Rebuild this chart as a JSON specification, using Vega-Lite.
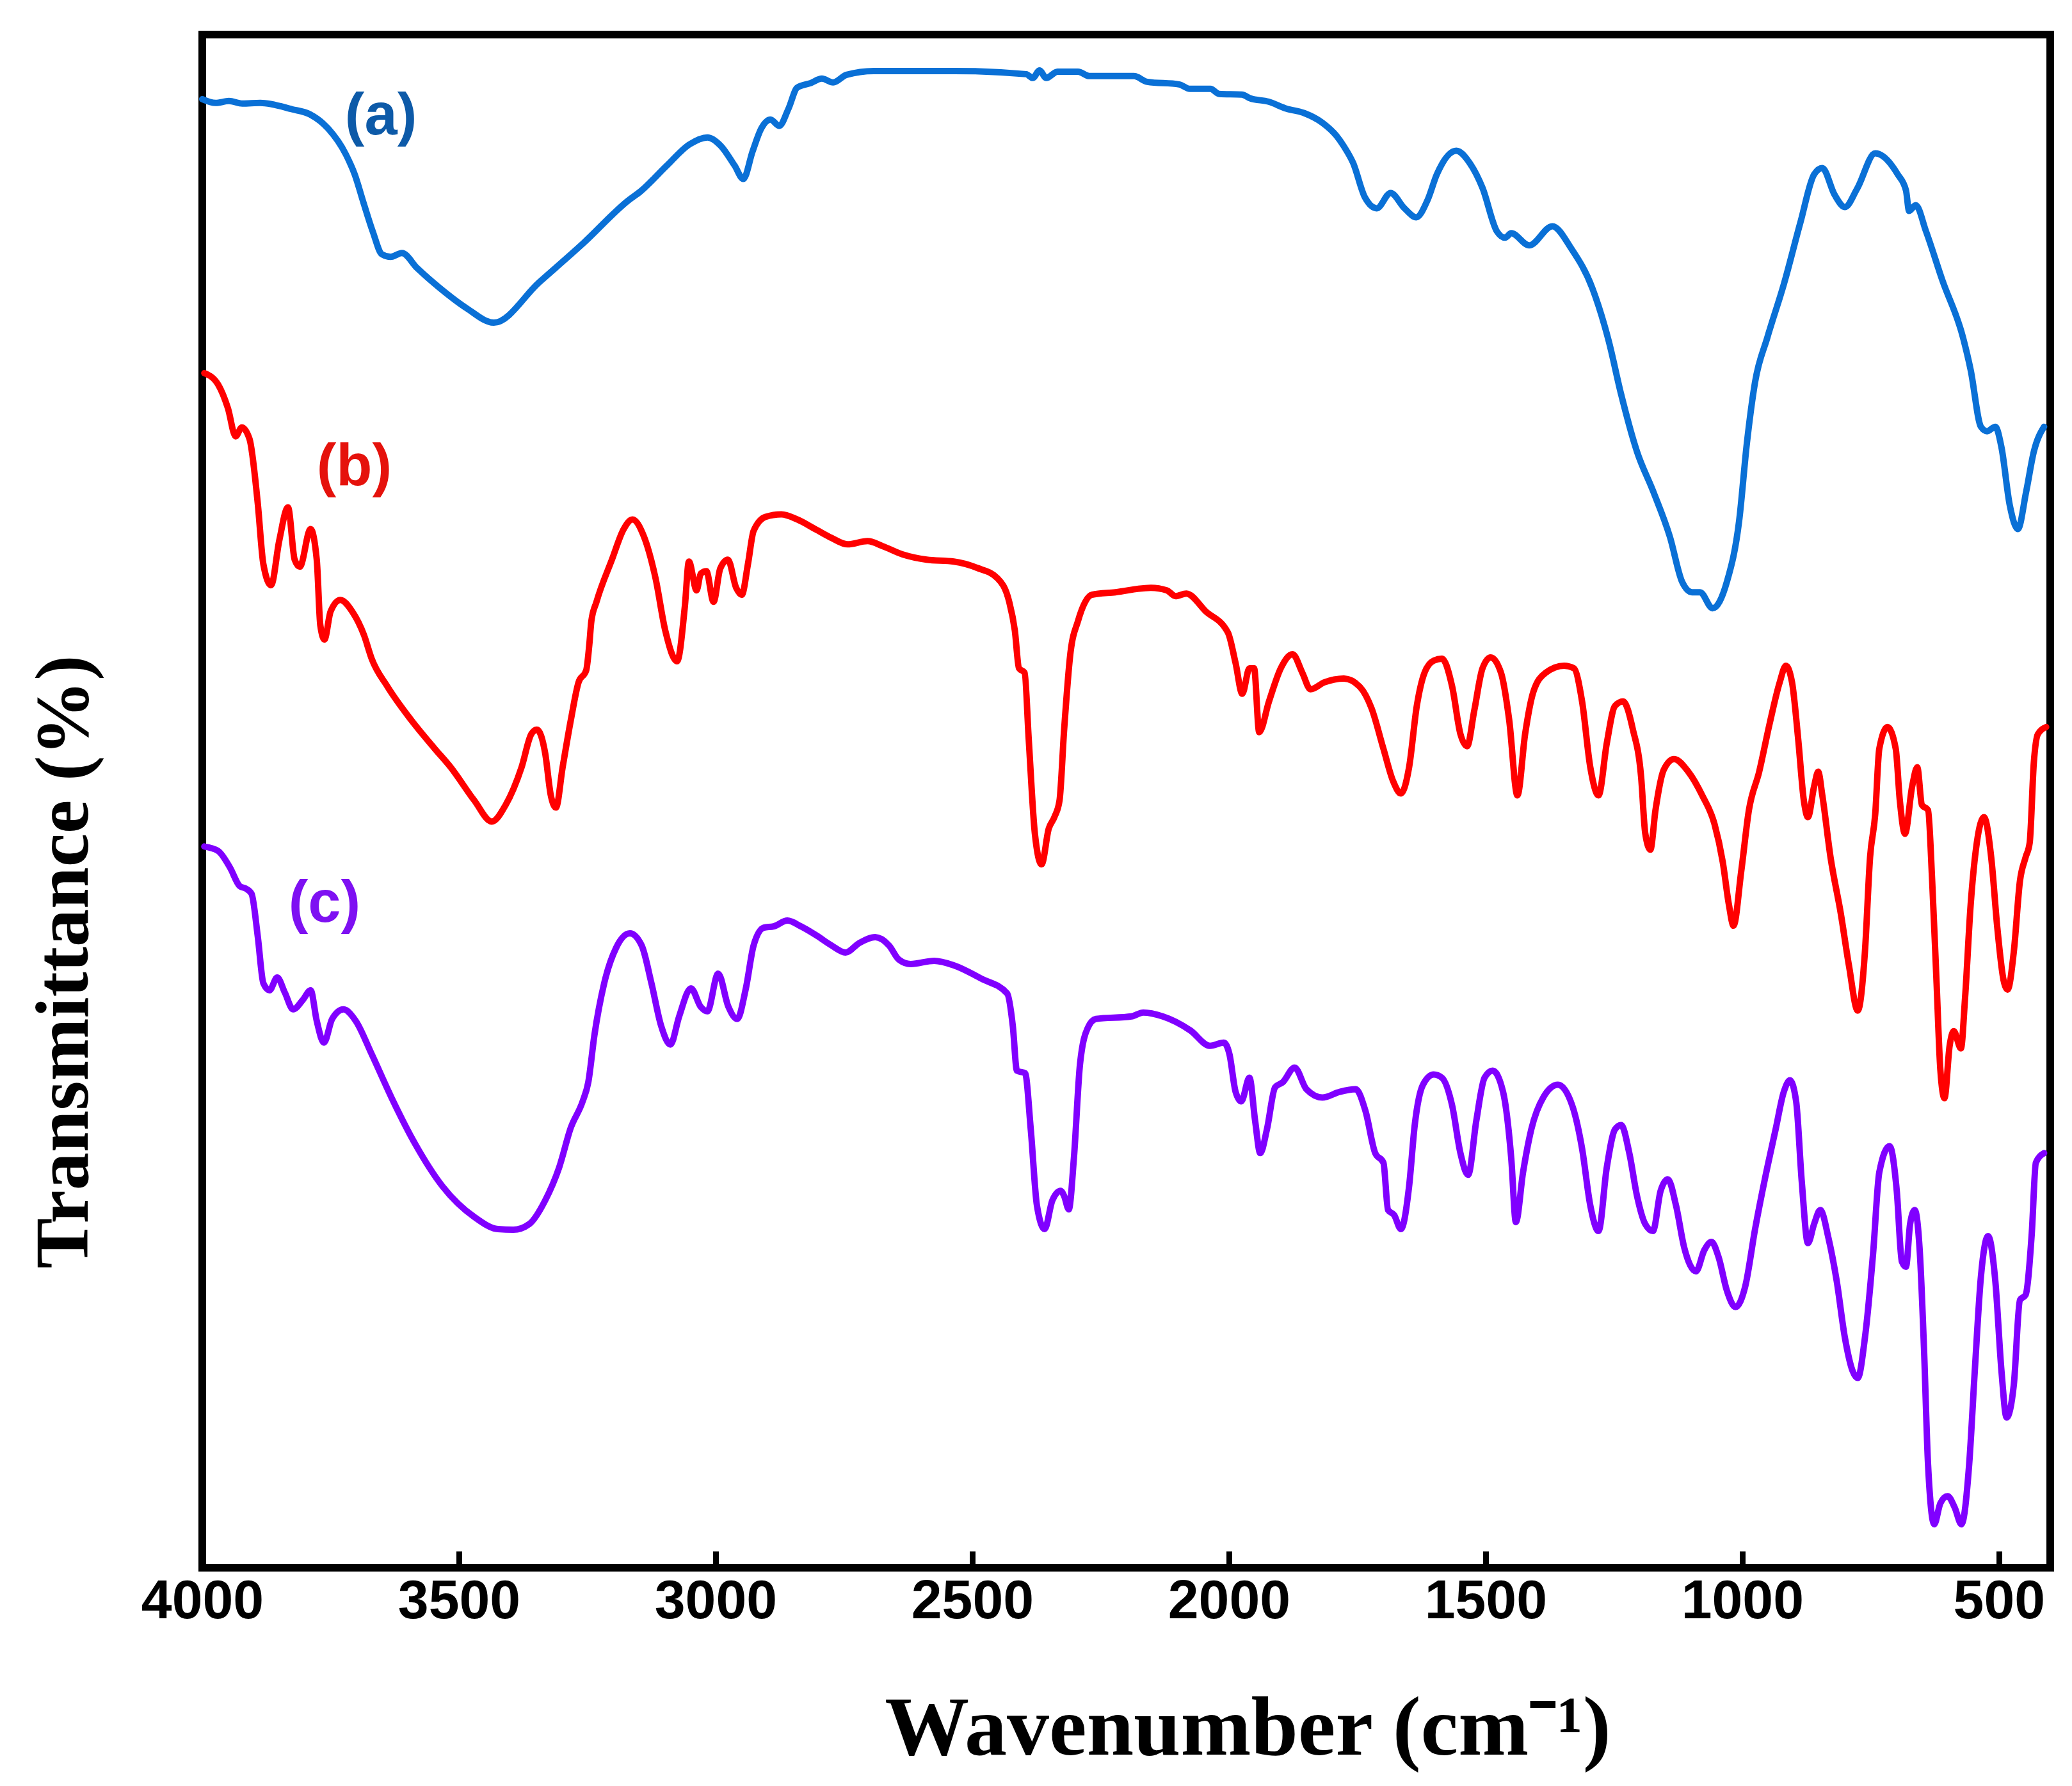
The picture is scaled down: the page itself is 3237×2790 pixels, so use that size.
{
  "$schema": "https://vega.github.io/schema/vega-lite/v6.json",
  "autosize": {"type": "none"},
  "padding": {"left": 316, "top": 54, "right": 34, "bottom": 341},
  "width": 2887,
  "height": 2395,
  "background": "white",
  "config": {"view": {"stroke": "#000000", "strokeWidth": 12}},
  "datasets": {
    "spectra": [
      {"sample":"a","wavenumber":4000,"transmittance":229.9},{"sample":"a","wavenumber":3974,"transmittance":229.3},{"sample":"a","wavenumber":3948,"transmittance":229.6},{"sample":"a","wavenumber":3922,"transmittance":229.2},{"sample":"a","wavenumber":3887,"transmittance":229.3},{"sample":"a","wavenumber":3825,"transmittance":228.3},{"sample":"a","wavenumber":3790,"transmittance":227.5},{"sample":"a","wavenumber":3755,"transmittance":225.3},{"sample":"a","wavenumber":3720,"transmittance":221.2},{"sample":"a","wavenumber":3703,"transmittance":218.1},{"sample":"a","wavenumber":3686,"transmittance":213.7},{"sample":"a","wavenumber":3668,"transmittance":209.2},{"sample":"a","wavenumber":3650,"transmittance":205.6},{"sample":"a","wavenumber":3633,"transmittance":205.2},{"sample":"a","wavenumber":3611,"transmittance":205.8},{"sample":"a","wavenumber":3581,"transmittance":203.4},{"sample":"a","wavenumber":3537,"transmittance":200.3},{"sample":"a","wavenumber":3484,"transmittance":197.1},{"sample":"a","wavenumber":3432,"transmittance":194.9},{"sample":"a","wavenumber":3344,"transmittance":201.2},{"sample":"a","wavenumber":3257,"transmittance":207.4},{"sample":"a","wavenumber":3169,"transmittance":214.1},{"sample":"a","wavenumber":3147,"transmittance":215.4},{"sample":"a","wavenumber":3095,"transmittance":219.5},{"sample":"a","wavenumber":3051,"transmittance":222.8},{"sample":"a","wavenumber":3016,"transmittance":223.9},{"sample":"a","wavenumber":2990,"transmittance":222.6},{"sample":"a","wavenumber":2963,"transmittance":219.5},{"sample":"a","wavenumber":2946,"transmittance":217.4},{"sample":"a","wavenumber":2928,"transmittance":221.7},{"sample":"a","wavenumber":2911,"transmittance":225.3},{"sample":"a","wavenumber":2893,"transmittance":226.7},{"sample":"a","wavenumber":2876,"transmittance":225.7},{"sample":"a","wavenumber":2858,"transmittance":228.4},{"sample":"a","wavenumber":2841,"transmittance":231.7},{"sample":"a","wavenumber":2815,"transmittance":232.4},{"sample":"a","wavenumber":2793,"transmittance":233.1},{"sample":"a","wavenumber":2771,"transmittance":232.5},{"sample":"a","wavenumber":2745,"transmittance":233.7},{"sample":"a","wavenumber":2692,"transmittance":234.3},{"sample":"a","wavenumber":2535,"transmittance":234.3},{"sample":"a","wavenumber":2395,"transmittance":233.8},{"sample":"a","wavenumber":2382,"transmittance":233.2},{"sample":"a","wavenumber":2369,"transmittance":234.4},{"sample":"a","wavenumber":2356,"transmittance":233.2},{"sample":"a","wavenumber":2334,"transmittance":234.2},{"sample":"a","wavenumber":2294,"transmittance":234.2},{"sample":"a","wavenumber":2272,"transmittance":233.5},{"sample":"a","wavenumber":2185,"transmittance":233.5},{"sample":"a","wavenumber":2159,"transmittance":232.6},{"sample":"a","wavenumber":2097,"transmittance":232.2},{"sample":"a","wavenumber":2076,"transmittance":231.5},{"sample":"a","wavenumber":2036,"transmittance":231.5},{"sample":"a","wavenumber":2019,"transmittance":230.7},{"sample":"a","wavenumber":1975,"transmittance":230.6},{"sample":"a","wavenumber":1958,"transmittance":230.0},{"sample":"a","wavenumber":1923,"transmittance":229.5},{"sample":"a","wavenumber":1888,"transmittance":228.4},{"sample":"a","wavenumber":1853,"transmittance":227.7},{"sample":"a","wavenumber":1818,"transmittance":226.2},{"sample":"a","wavenumber":1791,"transmittance":224.2},{"sample":"a","wavenumber":1776,"transmittance":222.5},{"sample":"a","wavenumber":1758,"transmittance":219.9},{"sample":"a","wavenumber":1735,"transmittance":214.5},{"sample":"a","wavenumber":1712,"transmittance":212.8},{"sample":"a","wavenumber":1685,"transmittance":215.2},{"sample":"a","wavenumber":1658,"transmittance":212.8},{"sample":"a","wavenumber":1635,"transmittance":211.4},{"sample":"a","wavenumber":1613,"transmittance":214.1},{"sample":"a","wavenumber":1595,"transmittance":218.1},{"sample":"a","wavenumber":1557,"transmittance":221.8},{"sample":"a","wavenumber":1531,"transmittance":219.9},{"sample":"a","wavenumber":1506,"transmittance":216.0},{"sample":"a","wavenumber":1478,"transmittance":209.2},{"sample":"a","wavenumber":1462,"transmittance":208.2},{"sample":"a","wavenumber":1450,"transmittance":208.9},{"sample":"a","wavenumber":1415,"transmittance":207.0},{"sample":"a","wavenumber":1370,"transmittance":210.0},{"sample":"a","wavenumber":1333,"transmittance":206.5},{"sample":"a","wavenumber":1292,"transmittance":200.3},{"sample":"a","wavenumber":1260,"transmittance":192.0},{"sample":"a","wavenumber":1236,"transmittance":183.7},{"sample":"a","wavenumber":1205,"transmittance":174.7},{"sample":"a","wavenumber":1173,"transmittance":168.4},{"sample":"a","wavenumber":1141,"transmittance":161.4},{"sample":"a","wavenumber":1117,"transmittance":154.3},{"sample":"a","wavenumber":1098,"transmittance":152.7},{"sample":"a","wavenumber":1082,"transmittance":152.7},{"sample":"a","wavenumber":1058,"transmittance":150.2},{"sample":"a","wavenumber":1030,"transmittance":154.3},{"sample":"a","wavenumber":1006,"transmittance":163.9},{"sample":"a","wavenumber":991,"transmittance":176.0},{"sample":"a","wavenumber":975,"transmittance":185.6},{"sample":"a","wavenumber":951,"transmittance":192.6},{"sample":"a","wavenumber":919,"transmittance":200.9},{"sample":"a","wavenumber":887,"transmittance":210.5},{"sample":"a","wavenumber":860,"transmittance":218.1},{"sample":"a","wavenumber":844,"transmittance":219.1},{"sample":"a","wavenumber":820,"transmittance":214.9},{"sample":"a","wavenumber":800,"transmittance":213.0},{"sample":"a","wavenumber":776,"transmittance":215.9},{"sample":"a","wavenumber":741,"transmittance":221.4},{"sample":"a","wavenumber":697,"transmittance":218.1},{"sample":"a","wavenumber":681,"transmittance":215.6},{"sample":"a","wavenumber":675,"transmittance":212.4},{"sample":"a","wavenumber":662,"transmittance":213.3},{"sample":"a","wavenumber":642,"transmittance":209.2},{"sample":"a","wavenumber":610,"transmittance":201.5},{"sample":"a","wavenumber":570,"transmittance":192.6},{"sample":"a","wavenumber":555,"transmittance":187.5},{"sample":"a","wavenumber":535,"transmittance":178.6},{"sample":"a","wavenumber":523,"transmittance":177.9},{"sample":"a","wavenumber":507,"transmittance":178.6},{"sample":"a","wavenumber":495,"transmittance":175.4},{"sample":"a","wavenumber":479,"transmittance":166.4},{"sample":"a","wavenumber":463,"transmittance":162.6},{"sample":"a","wavenumber":447,"transmittance":168.4},{"sample":"a","wavenumber":432,"transmittance":174.7},{"sample":"a","wavenumber":412,"transmittance":178.6},
      {"sample":"b","wavenumber":3996,"transmittance":187.0},{"sample":"b","wavenumber":3969,"transmittance":185.2},{"sample":"b","wavenumber":3950,"transmittance":181.5},{"sample":"b","wavenumber":3935,"transmittance":177.1},{"sample":"b","wavenumber":3923,"transmittance":178.5},{"sample":"b","wavenumber":3908,"transmittance":176.7},{"sample":"b","wavenumber":3892,"transmittance":166.7},{"sample":"b","wavenumber":3881,"transmittance":157.1},{"sample":"b","wavenumber":3866,"transmittance":153.8},{"sample":"b","wavenumber":3850,"transmittance":160.8},{"sample":"b","wavenumber":3833,"transmittance":166.0},{"sample":"b","wavenumber":3820,"transmittance":157.8},{"sample":"b","wavenumber":3810,"transmittance":156.7},{"sample":"b","wavenumber":3789,"transmittance":162.6},{"sample":"b","wavenumber":3777,"transmittance":157.8},{"sample":"b","wavenumber":3770,"transmittance":147.5},{"sample":"b","wavenumber":3762,"transmittance":145.3},{"sample":"b","wavenumber":3750,"transmittance":149.7},{"sample":"b","wavenumber":3731,"transmittance":151.5},{"sample":"b","wavenumber":3708,"transmittance":149.7},{"sample":"b","wavenumber":3685,"transmittance":146.0},{"sample":"b","wavenumber":3670,"transmittance":142.3},{"sample":"b","wavenumber":3639,"transmittance":137.9},{"sample":"b","wavenumber":3593,"transmittance":132.7},{"sample":"b","wavenumber":3547,"transmittance":128.2},{"sample":"b","wavenumber":3516,"transmittance":125.3},{"sample":"b","wavenumber":3470,"transmittance":120.1},{"sample":"b","wavenumber":3436,"transmittance":116.8},{"sample":"b","wavenumber":3409,"transmittance":119.4},{"sample":"b","wavenumber":3378,"transmittance":125.3},{"sample":"b","wavenumber":3359,"transmittance":130.5},{"sample":"b","wavenumber":3348,"transmittance":131.2},{"sample":"b","wavenumber":3332,"transmittance":127.5},{"sample":"b","wavenumber":3321,"transmittance":120.9},{"sample":"b","wavenumber":3311,"transmittance":119.0},{"sample":"b","wavenumber":3298,"transmittance":125.3},{"sample":"b","wavenumber":3282,"transmittance":132.7},{"sample":"b","wavenumber":3267,"transmittance":138.6},{"sample":"b","wavenumber":3252,"transmittance":140.5},{"sample":"b","wavenumber":3246,"transmittance":144.5},{"sample":"b","wavenumber":3242,"transmittance":148.2},{"sample":"b","wavenumber":3232,"transmittance":151.2},{"sample":"b","wavenumber":3202,"transmittance":157.8},{"sample":"b","wavenumber":3179,"transmittance":162.6},{"sample":"b","wavenumber":3162,"transmittance":164.1},{"sample":"b","wavenumber":3140,"transmittance":161.5},{"sample":"b","wavenumber":3117,"transmittance":154.9},{"sample":"b","wavenumber":3098,"transmittance":146.7},{"sample":"b","wavenumber":3075,"transmittance":141.9},{"sample":"b","wavenumber":3060,"transmittance":150.4},{"sample":"b","wavenumber":3052,"transmittance":157.5},{"sample":"b","wavenumber":3037,"transmittance":153.0},{"sample":"b","wavenumber":3029,"transmittance":155.6},{"sample":"b","wavenumber":3018,"transmittance":156.0},{"sample":"b","wavenumber":3004,"transmittance":151.2},{"sample":"b","wavenumber":2991,"transmittance":156.4},{"sample":"b","wavenumber":2976,"transmittance":157.8},{"sample":"b","wavenumber":2960,"transmittance":153.4},{"sample":"b","wavenumber":2949,"transmittance":152.3},{"sample":"b","wavenumber":2937,"transmittance":157.1},{"sample":"b","wavenumber":2926,"transmittance":162.3},{"sample":"b","wavenumber":2903,"transmittance":164.5},{"sample":"b","wavenumber":2872,"transmittance":164.9},{"sample":"b","wavenumber":2841,"transmittance":164.1},{"sample":"b","wavenumber":2804,"transmittance":162.5},{"sample":"b","wavenumber":2774,"transmittance":161.2},{"sample":"b","wavenumber":2743,"transmittance":160.2},{"sample":"b","wavenumber":2704,"transmittance":160.7},{"sample":"b","wavenumber":2674,"transmittance":159.9},{"sample":"b","wavenumber":2635,"transmittance":158.6},{"sample":"b","wavenumber":2589,"transmittance":157.8},{"sample":"b","wavenumber":2536,"transmittance":157.5},{"sample":"b","wavenumber":2490,"transmittance":156.5},{"sample":"b","wavenumber":2451,"transmittance":154.9},{"sample":"b","wavenumber":2428,"transmittance":151.2},{"sample":"b","wavenumber":2417,"transmittance":146.7},{"sample":"b","wavenumber":2409,"transmittance":140.8},{"sample":"b","wavenumber":2398,"transmittance":140.1},{"sample":"b","wavenumber":2390,"transmittance":129.7},{"sample":"b","wavenumber":2378,"transmittance":114.9},{"sample":"b","wavenumber":2365,"transmittance":110.1},{"sample":"b","wavenumber":2351,"transmittance":115.7},{"sample":"b","wavenumber":2340,"transmittance":117.5},{"sample":"b","wavenumber":2330,"transmittance":120.1},{"sample":"b","wavenumber":2321,"transmittance":131.2},{"sample":"b","wavenumber":2309,"transmittance":143.0},{"sample":"b","wavenumber":2294,"transmittance":148.2},{"sample":"b","wavenumber":2267,"transmittance":152.3},{"sample":"b","wavenumber":2221,"transmittance":152.7},{"sample":"b","wavenumber":2152,"transmittance":153.4},{"sample":"b","wavenumber":2121,"transmittance":153.0},{"sample":"b","wavenumber":2104,"transmittance":152.1},{"sample":"b","wavenumber":2083,"transmittance":152.5},{"sample":"b","wavenumber":2045,"transmittance":149.7},{"sample":"b","wavenumber":2002,"transmittance":146.4},{"sample":"b","wavenumber":1987,"transmittance":141.6},{"sample":"b","wavenumber":1974,"transmittance":136.8},{"sample":"b","wavenumber":1960,"transmittance":140.8},{"sample":"b","wavenumber":1951,"transmittance":140.8},{"sample":"b","wavenumber":1941,"transmittance":130.8},{"sample":"b","wavenumber":1922,"transmittance":135.6},{"sample":"b","wavenumber":1899,"transmittance":140.8},{"sample":"b","wavenumber":1876,"transmittance":143.0},{"sample":"b","wavenumber":1857,"transmittance":140.1},{"sample":"b","wavenumber":1841,"transmittance":137.5},{"sample":"b","wavenumber":1814,"transmittance":138.6},{"sample":"b","wavenumber":1776,"transmittance":139.2},{"sample":"b","wavenumber":1745,"transmittance":137.9},{"sample":"b","wavenumber":1722,"transmittance":134.5},{"sample":"b","wavenumber":1699,"transmittance":128.2},{"sample":"b","wavenumber":1680,"transmittance":123.1},{"sample":"b","wavenumber":1665,"transmittance":121.2},{"sample":"b","wavenumber":1649,"transmittance":125.3},{"sample":"b","wavenumber":1634,"transmittance":134.9},{"sample":"b","wavenumber":1619,"transmittance":140.1},{"sample":"b","wavenumber":1601,"transmittance":142.0},{"sample":"b","wavenumber":1585,"transmittance":142.3},{"sample":"b","wavenumber":1565,"transmittance":137.9},{"sample":"b","wavenumber":1549,"transmittance":130.5},{"sample":"b","wavenumber":1536,"transmittance":128.6},{"sample":"b","wavenumber":1522,"transmittance":134.2},{"sample":"b","wavenumber":1506,"transmittance":140.8},{"sample":"b","wavenumber":1490,"transmittance":142.5},{"sample":"b","wavenumber":1470,"transmittance":140.1},{"sample":"b","wavenumber":1454,"transmittance":132.7},{"sample":"b","wavenumber":1438,"transmittance":120.9},{"sample":"b","wavenumber":1423,"transmittance":130.5},{"sample":"b","wavenumber":1407,"transmittance":137.1},{"sample":"b","wavenumber":1383,"transmittance":140.1},{"sample":"b","wavenumber":1347,"transmittance":141.2},{"sample":"b","wavenumber":1328,"transmittance":140.8},{"sample":"b","wavenumber":1312,"transmittance":135.6},{"sample":"b","wavenumber":1296,"transmittance":125.3},{"sample":"b","wavenumber":1280,"transmittance":120.9},{"sample":"b","wavenumber":1264,"transmittance":129.0},{"sample":"b","wavenumber":1248,"transmittance":134.9},{"sample":"b","wavenumber":1232,"transmittance":135.6},{"sample":"b","wavenumber":1213,"transmittance":131.2},{"sample":"b","wavenumber":1197,"transmittance":123.8},{"sample":"b","wavenumber":1189,"transmittance":115.0},{"sample":"b","wavenumber":1179,"transmittance":112.4},{"sample":"b","wavenumber":1169,"transmittance":118.6},{"sample":"b","wavenumber":1153,"transmittance":124.9},{"sample":"b","wavenumber":1133,"transmittance":126.6},{"sample":"b","wavenumber":1105,"transmittance":124.6},{"sample":"b","wavenumber":1078,"transmittance":120.9},{"sample":"b","wavenumber":1054,"transmittance":116.4},{"sample":"b","wavenumber":1038,"transmittance":110.5},{"sample":"b","wavenumber":1026,"transmittance":103.8},{"sample":"b","wavenumber":1017,"transmittance":100.5},{"sample":"b","wavenumber":1002,"transmittance":109.0},{"sample":"b","wavenumber":987,"transmittance":118.6},{"sample":"b","wavenumber":967,"transmittance":124.6},{"sample":"b","wavenumber":947,"transmittance":132.0},{"sample":"b","wavenumber":927,"transmittance":138.6},{"sample":"b","wavenumber":915,"transmittance":141.2},{"sample":"b","wavenumber":903,"transmittance":138.6},{"sample":"b","wavenumber":891,"transmittance":129.7},{"sample":"b","wavenumber":880,"transmittance":120.1},{"sample":"b","wavenumber":872,"transmittance":117.5},{"sample":"b","wavenumber":860,"transmittance":122.3},{"sample":"b","wavenumber":852,"transmittance":124.6},{"sample":"b","wavenumber":844,"transmittance":120.9},{"sample":"b","wavenumber":828,"transmittance":111.2},{"sample":"b","wavenumber":808,"transmittance":102.4},{"sample":"b","wavenumber":792,"transmittance":94.2},{"sample":"b","wavenumber":775,"transmittance":87.2},{"sample":"b","wavenumber":761,"transmittance":96.4},{"sample":"b","wavenumber":751,"transmittance":111.2},{"sample":"b","wavenumber":741,"transmittance":117.9},{"sample":"b","wavenumber":733,"transmittance":128.2},{"sample":"b","wavenumber":717,"transmittance":131.6},{"sample":"b","wavenumber":701,"transmittance":128.2},{"sample":"b","wavenumber":693,"transmittance":120.1},{"sample":"b","wavenumber":683,"transmittance":114.9},{"sample":"b","wavenumber":669,"transmittance":122.3},{"sample":"b","wavenumber":659,"transmittance":125.3},{"sample":"b","wavenumber":650,"transmittance":119.4},{"sample":"b","wavenumber":638,"transmittance":118.6},{"sample":"b","wavenumber":630,"transmittance":107.5},{"sample":"b","wavenumber":622,"transmittance":92.7},{"sample":"b","wavenumber":614,"transmittance":77.9},{"sample":"b","wavenumber":606,"transmittance":73.5},{"sample":"b","wavenumber":596,"transmittance":81.7},{"sample":"b","wavenumber":588,"transmittance":84.0},{"sample":"b","wavenumber":574,"transmittance":81.3},{"sample":"b","wavenumber":566,"transmittance":89.1},{"sample":"b","wavenumber":555,"transmittance":103.8},{"sample":"b","wavenumber":543,"transmittance":113.5},{"sample":"b","wavenumber":529,"transmittance":117.5},{"sample":"b","wavenumber":515,"transmittance":111.2},{"sample":"b","wavenumber":503,"transmittance":100.1},{"sample":"b","wavenumber":491,"transmittance":92.0},{"sample":"b","wavenumber":483,"transmittance":90.5},{"sample":"b","wavenumber":471,"transmittance":96.4},{"sample":"b","wavenumber":459,"transmittance":107.5},{"sample":"b","wavenumber":448,"transmittance":111.2},{"sample":"b","wavenumber":440,"transmittance":113.5},{"sample":"b","wavenumber":432,"transmittance":126.0},{"sample":"b","wavenumber":424,"transmittance":130.5},{"sample":"b","wavenumber":408,"transmittance":131.6},
      {"sample":"c","wavenumber":3996,"transmittance":112.9},{"sample":"c","wavenumber":3969,"transmittance":112.2},{"sample":"c","wavenumber":3946,"transmittance":109.6},{"sample":"c","wavenumber":3927,"transmittance":106.7},{"sample":"c","wavenumber":3915,"transmittance":106.3},{"sample":"c","wavenumber":3904,"transmittance":105.5},{"sample":"c","wavenumber":3892,"transmittance":98.9},{"sample":"c","wavenumber":3881,"transmittance":91.5},{"sample":"c","wavenumber":3869,"transmittance":90.4},{"sample":"c","wavenumber":3854,"transmittance":92.4},{"sample":"c","wavenumber":3839,"transmittance":90.0},{"sample":"c","wavenumber":3823,"transmittance":87.4},{"sample":"c","wavenumber":3804,"transmittance":88.9},{"sample":"c","wavenumber":3789,"transmittance":90.4},{"sample":"c","wavenumber":3777,"transmittance":85.6},{"sample":"c","wavenumber":3763,"transmittance":82.2},{"sample":"c","wavenumber":3747,"transmittance":85.9},{"sample":"c","wavenumber":3725,"transmittance":87.4},{"sample":"c","wavenumber":3701,"transmittance":85.6},{"sample":"c","wavenumber":3670,"transmittance":80.4},{"sample":"c","wavenumber":3632,"transmittance":73.7},{"sample":"c","wavenumber":3585,"transmittance":66.3},{"sample":"c","wavenumber":3532,"transmittance":59.7},{"sample":"c","wavenumber":3470,"transmittance":54.9},{"sample":"c","wavenumber":3424,"transmittance":53.0},{"sample":"c","wavenumber":3394,"transmittance":52.9},{"sample":"c","wavenumber":3363,"transmittance":53.8},{"sample":"c","wavenumber":3332,"transmittance":57.5},{"sample":"c","wavenumber":3305,"transmittance":62.6},{"sample":"c","wavenumber":3282,"transmittance":68.9},{"sample":"c","wavenumber":3259,"transmittance":73.0},{"sample":"c","wavenumber":3248,"transmittance":76.0},{"sample":"c","wavenumber":3236,"transmittance":83.4},{"sample":"c","wavenumber":3217,"transmittance":91.5},{"sample":"c","wavenumber":3194,"transmittance":97.0},{"sample":"c","wavenumber":3167,"transmittance":99.3},{"sample":"c","wavenumber":3144,"transmittance":97.4},{"sample":"c","wavenumber":3125,"transmittance":91.5},{"sample":"c","wavenumber":3106,"transmittance":84.8},{"sample":"c","wavenumber":3088,"transmittance":81.9},{"sample":"c","wavenumber":3071,"transmittance":86.3},{"sample":"c","wavenumber":3048,"transmittance":90.7},{"sample":"c","wavenumber":3029,"transmittance":87.8},{"sample":"c","wavenumber":3016,"transmittance":87.1},{"sample":"c","wavenumber":2995,"transmittance":93.0},{"sample":"c","wavenumber":2975,"transmittance":87.8},{"sample":"c","wavenumber":2958,"transmittance":85.9},{"sample":"c","wavenumber":2941,"transmittance":90.7},{"sample":"c","wavenumber":2926,"transmittance":97.4},{"sample":"c","wavenumber":2906,"transmittance":100.2},{"sample":"c","wavenumber":2887,"transmittance":100.4},{"sample":"c","wavenumber":2860,"transmittance":101.3},{"sample":"c","wavenumber":2834,"transmittance":100.4},{"sample":"c","wavenumber":2804,"transmittance":99.0},{"sample":"c","wavenumber":2774,"transmittance":97.4},{"sample":"c","wavenumber":2747,"transmittance":96.3},{"sample":"c","wavenumber":2720,"transmittance":97.8},{"sample":"c","wavenumber":2689,"transmittance":98.7},{"sample":"c","wavenumber":2662,"transmittance":97.4},{"sample":"c","wavenumber":2643,"transmittance":95.2},{"sample":"c","wavenumber":2620,"transmittance":94.5},{"sample":"c","wavenumber":2574,"transmittance":95.0},{"sample":"c","wavenumber":2536,"transmittance":94.3},{"sample":"c","wavenumber":2482,"transmittance":92.2},{"sample":"c","wavenumber":2432,"transmittance":89.9},{"sample":"c","wavenumber":2421,"transmittance":84.8},{"sample":"c","wavenumber":2413,"transmittance":77.8},{"sample":"c","wavenumber":2397,"transmittance":77.4},{"sample":"c","wavenumber":2386,"transmittance":68.6},{"sample":"c","wavenumber":2374,"transmittance":56.7},{"sample":"c","wavenumber":2359,"transmittance":53.0},{"sample":"c","wavenumber":2344,"transmittance":57.5},{"sample":"c","wavenumber":2328,"transmittance":59.0},{"sample":"c","wavenumber":2321,"transmittance":58.2},{"sample":"c","wavenumber":2312,"transmittance":56.1},{"sample":"c","wavenumber":2302,"transmittance":64.1},{"sample":"c","wavenumber":2290,"transmittance":78.9},{"sample":"c","wavenumber":2275,"transmittance":84.5},{"sample":"c","wavenumber":2259,"transmittance":85.9},{"sample":"c","wavenumber":2190,"transmittance":86.3},{"sample":"c","wavenumber":2167,"transmittance":86.9},{"sample":"c","wavenumber":2129,"transmittance":86.3},{"sample":"c","wavenumber":2075,"transmittance":84.1},{"sample":"c","wavenumber":2037,"transmittance":81.7},{"sample":"c","wavenumber":2010,"transmittance":82.2},{"sample":"c","wavenumber":1999,"transmittance":80.4},{"sample":"c","wavenumber":1987,"transmittance":74.5},{"sample":"c","wavenumber":1976,"transmittance":73.0},{"sample":"c","wavenumber":1960,"transmittance":76.7},{"sample":"c","wavenumber":1949,"transmittance":70.0},{"sample":"c","wavenumber":1939,"transmittance":64.9},{"sample":"c","wavenumber":1926,"transmittance":68.6},{"sample":"c","wavenumber":1910,"transmittance":75.2},{"sample":"c","wavenumber":1895,"transmittance":76.0},{"sample":"c","wavenumber":1872,"transmittance":78.3},{"sample":"c","wavenumber":1849,"transmittance":74.9},{"sample":"c","wavenumber":1818,"transmittance":73.6},{"sample":"c","wavenumber":1784,"transmittance":74.5},{"sample":"c","wavenumber":1753,"transmittance":74.9},{"sample":"c","wavenumber":1734,"transmittance":71.5},{"sample":"c","wavenumber":1715,"transmittance":64.9},{"sample":"c","wavenumber":1699,"transmittance":63.4},{"sample":"c","wavenumber":1690,"transmittance":56.0},{"sample":"c","wavenumber":1678,"transmittance":55.2},{"sample":"c","wavenumber":1665,"transmittance":53.0},{"sample":"c","wavenumber":1649,"transmittance":59.7},{"sample":"c","wavenumber":1638,"transmittance":69.3},{"sample":"c","wavenumber":1622,"transmittance":75.6},{"sample":"c","wavenumber":1601,"transmittance":77.2},{"sample":"c","wavenumber":1585,"transmittance":76.7},{"sample":"c","wavenumber":1565,"transmittance":72.3},{"sample":"c","wavenumber":1549,"transmittance":64.9},{"sample":"c","wavenumber":1534,"transmittance":61.5},{"sample":"c","wavenumber":1518,"transmittance":70.0},{"sample":"c","wavenumber":1502,"transmittance":76.7},{"sample":"c","wavenumber":1486,"transmittance":77.8},{"sample":"c","wavenumber":1466,"transmittance":74.5},{"sample":"c","wavenumber":1450,"transmittance":64.1},{"sample":"c","wavenumber":1441,"transmittance":54.1},{"sample":"c","wavenumber":1427,"transmittance":61.9},{"sample":"c","wavenumber":1411,"transmittance":68.6},{"sample":"c","wavenumber":1387,"transmittance":73.7},{"sample":"c","wavenumber":1359,"transmittance":75.6},{"sample":"c","wavenumber":1331,"transmittance":72.3},{"sample":"c","wavenumber":1312,"transmittance":65.6},{"sample":"c","wavenumber":1296,"transmittance":56.7},{"sample":"c","wavenumber":1280,"transmittance":52.7},{"sample":"c","wavenumber":1264,"transmittance":62.6},{"sample":"c","wavenumber":1248,"transmittance":68.6},{"sample":"c","wavenumber":1236,"transmittance":69.3},{"sample":"c","wavenumber":1220,"transmittance":64.9},{"sample":"c","wavenumber":1205,"transmittance":58.2},{"sample":"c","wavenumber":1189,"transmittance":53.8},{"sample":"c","wavenumber":1174,"transmittance":52.7},{"sample":"c","wavenumber":1159,"transmittance":59.0},{"sample":"c","wavenumber":1145,"transmittance":60.8},{"sample":"c","wavenumber":1129,"transmittance":56.7},{"sample":"c","wavenumber":1113,"transmittance":50.1},{"sample":"c","wavenumber":1090,"transmittance":46.4},{"sample":"c","wavenumber":1074,"transmittance":49.7},{"sample":"c","wavenumber":1060,"transmittance":51.0},{"sample":"c","wavenumber":1046,"transmittance":48.6},{"sample":"c","wavenumber":1030,"transmittance":43.4},{"sample":"c","wavenumber":1013,"transmittance":40.8},{"sample":"c","wavenumber":994,"transmittance":44.1},{"sample":"c","wavenumber":975,"transmittance":53.0},{"sample":"c","wavenumber":955,"transmittance":61.2},{"sample":"c","wavenumber":935,"transmittance":68.6},{"sample":"c","wavenumber":919,"transmittance":74.5},{"sample":"c","wavenumber":907,"transmittance":76.3},{"sample":"c","wavenumber":895,"transmittance":73.0},{"sample":"c","wavenumber":884,"transmittance":60.4},{"sample":"c","wavenumber":872,"transmittance":50.8},{"sample":"c","wavenumber":860,"transmittance":53.8},{"sample":"c","wavenumber":848,"transmittance":56.0},{"sample":"c","wavenumber":832,"transmittance":51.6},{"sample":"c","wavenumber":816,"transmittance":44.9},{"sample":"c","wavenumber":800,"transmittance":36.0},{"sample":"c","wavenumber":785,"transmittance":30.8},{"sample":"c","wavenumber":775,"transmittance":29.7},{"sample":"c","wavenumber":761,"transmittance":36.0},{"sample":"c","wavenumber":745,"transmittance":49.3},{"sample":"c","wavenumber":733,"transmittance":61.9},{"sample":"c","wavenumber":713,"transmittance":66.0},{"sample":"c","wavenumber":699,"transmittance":59.0},{"sample":"c","wavenumber":689,"transmittance":47.9},{"sample":"c","wavenumber":681,"transmittance":47.1},{"sample":"c","wavenumber":673,"transmittance":53.8},{"sample":"c","wavenumber":664,"transmittance":56.0},{"sample":"c","wavenumber":654,"transmittance":49.3},{"sample":"c","wavenumber":646,"transmittance":34.5},{"sample":"c","wavenumber":638,"transmittance":16.1},{"sample":"c","wavenumber":626,"transmittance":6.8},{"sample":"c","wavenumber":614,"transmittance":10.1},{"sample":"c","wavenumber":600,"transmittance":11.2},{"sample":"c","wavenumber":586,"transmittance":9.4},{"sample":"c","wavenumber":573,"transmittance":6.8},{"sample":"c","wavenumber":558,"transmittance":16.1},{"sample":"c","wavenumber":547,"transmittance":30.8},{"sample":"c","wavenumber":535,"transmittance":45.6},{"sample":"c","wavenumber":521,"transmittance":51.9},{"sample":"c","wavenumber":507,"transmittance":44.9},{"sample":"c","wavenumber":495,"transmittance":30.8},{"sample":"c","wavenumber":485,"transmittance":23.5},{"sample":"c","wavenumber":471,"transmittance":28.6},{"sample":"c","wavenumber":459,"transmittance":41.9},{"sample":"c","wavenumber":448,"transmittance":42.7},{"sample":"c","wavenumber":436,"transmittance":52.3},{"sample":"c","wavenumber":428,"transmittance":63.4},{"sample":"c","wavenumber":412,"transmittance":64.9}
    ],
    "labels": [
      {"sample":"a","label":"(a)","wavenumber":3652,"transmittance":224.4},
      {"sample":"b","label":"(b)","wavenumber":3704,"transmittance":169.5},
      {"sample":"c","label":"(c)","wavenumber":3762,"transmittance":101.1}
    ]
  },
  "layer": [
    {
      "data": {"name": "spectra"},
      "mark": {"type": "line", "strokeWidth": 10, "interpolate": "monotone", "strokeCap": "round", "strokeJoin": "round"},
      "encoding": {
        "x": {
          "field": "wavenumber", "type": "quantitative",
          "scale": {"domain": [400, 4000], "reverse": true, "nice": false, "zero": false},
          "axis": {
            "values": [4000, 3500, 3000, 2500, 2000, 1500, 1000, 500],
            "format": "d",
            "domain": false, "grid": false,
            "tickSize": -26, "tickWidth": 9, "tickColor": "#000000",
            "labelFont": "Liberation Sans", "labelFontWeight": "bold", "labelFontSize": 86, "labelColor": "#000000",
            "labelPadding": 36, "labelFlush": false, "labelOverlap": false, "labelBaseline": "top", "labelLimit": 0,
            "title": "Wavenumber (cm⁻¹)",
            "titleFont": "Liberation Serif", "titleFontWeight": "bold", "titleFontSize": 132, "titleColor": "#000000",
            "titleX": 1633, "titleY": 291, "titleBaseline": "alphabetic", "titleAlign": "center", "titleAnchor": null, "titleLimit": 0
          }
        },
        "y": {
          "field": "transmittance", "type": "quantitative",
          "scale": {"domain": [0, 240], "nice": false, "zero": false},
          "axis": {
            "ticks": false, "labels": false, "domain": false, "grid": false,
            "title": "Transmittance (%)",
            "titleFont": "Liberation Serif", "titleFontWeight": "bold", "titleFontSize": 118, "titleColor": "#000000",
            "titleAngle": 270, "titleX": -180, "titleY": 1448, "titleBaseline": "alphabetic", "titleAlign": "center", "titleLimit": 0
          }
        },
        "color": {
          "field": "sample", "type": "nominal",
          "scale": {"domain": ["a", "b", "c"], "range": ["#0A70D6", "#FF0000", "#8000FF"]},
          "legend": null
        }
      }
    },
    {
      "data": {"name": "labels"},
      "mark": {"type": "text", "font": "Liberation Sans", "fontWeight": "bold", "fontSize": 92, "align": "center", "baseline": "alphabetic"},
      "encoding": {
        "x": {"field": "wavenumber", "type": "quantitative"},
        "y": {"field": "transmittance", "type": "quantitative"},
        "text": {"field": "label"},
        "color": {
          "field": "sample", "type": "nominal",
          "scale": {"domain": ["a", "b", "c"], "range": ["#0D5AA8", "#E5120C", "#7E10F2"]},
          "legend": null
        }
      }
    }
  ],
  "resolve": {"scale": {"color": "independent"}}
}
